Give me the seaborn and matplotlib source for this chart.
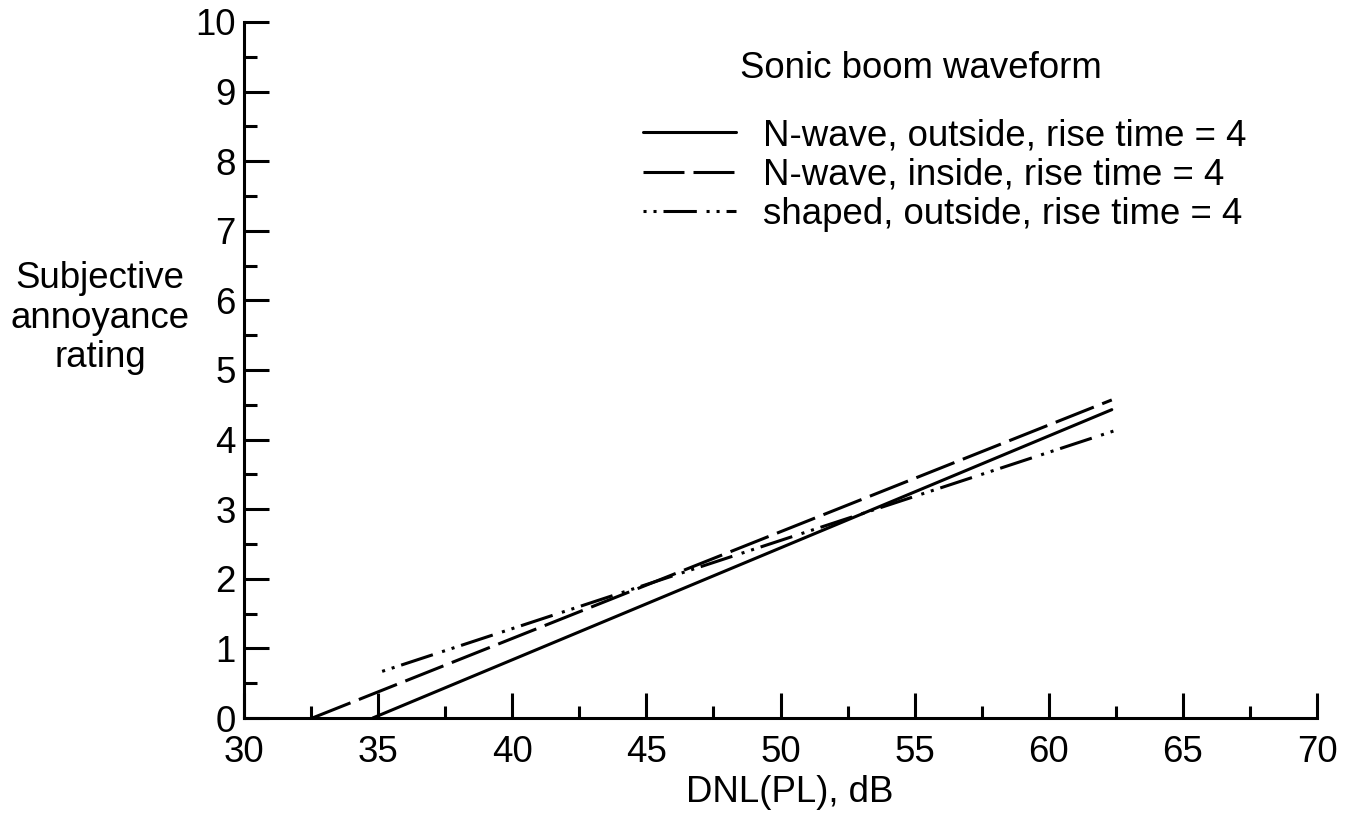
import numpy as np
import pandas as pd
import matplotlib
matplotlib.use("Agg")
import matplotlib.pyplot as plt
import seaborn as sns
from matplotlib.ticker import MultipleLocator

# ---- data ----
series_labels = ["N-wave, outside, rise time = 4",
                 "N-wave, inside, rise time = 4",
                 "shaped, outside, rise time = 4"]
dnl_start = [34.8, 32.55, 35.15]
dnl_end = [62.35, 62.35, 62.55]
rating_start = [0.0, 0.0, 0.67]
rating_end = [4.43, 4.57, 4.14]
x_ticks = [30, 35, 40, 45, 50, 55, 60, 65, 70]
y_ticks = [0, 1, 2, 3, 4, 5, 6, 7, 8, 9, 10]
legend_title = "Sonic boom waveform"
x_label = "DNL(PL), dB"
y_label = "Subjective\nannoyance\nrating"

df = pd.DataFrame({
    "DNL": [v for pair in zip(dnl_start, dnl_end) for v in pair],
    "rating": [v for pair in zip(rating_start, rating_end) for v in pair],
    "waveform": [lab for lab in series_labels for _ in range(2)],
})

sns.set_theme(style="ticks")
plt.rcParams["font.family"] = ["Liberation Sans", "DejaVu Sans"]
plt.rcParams["lines.scale_dashes"] = False
plt.rcParams["text.color"] = "black"
plt.rcParams["axes.labelcolor"] = "black"

FS = 26.4
fig = plt.figure(figsize=(13.5, 8.34), dpi=100)
W, H = 1350, 834
x0, x1, y0, y1 = 244, 1317, 718, 22
ax = fig.add_axes([x0 / W, 1 - y0 / H, (x1 - x0) / W, (y0 - y1) / H])

def ax_x(px):
    return (px - x0) / (x1 - x0)

def ax_y(py):
    return (y0 - py) / (y0 - y1)

dash_map = {
    series_labels[0]: "",
    series_labels[1]: (29.5, 6.5),
    series_labels[2]: (2.2, 5, 2.2, 5, 24, 7),
}
sns.lineplot(data=df, x="DNL", y="rating", style="waveform",
             style_order=series_labels, dashes=dash_map, color="black",
             linewidth=2.2, legend=False, estimator=None, sort=False, ax=ax)

ax.set_xlim(30, 70)
ax.set_ylim(0, 10)
ax.set_xticks(x_ticks)
ax.set_yticks(y_ticks)
ax.xaxis.set_minor_locator(MultipleLocator(2.5))
ax.yaxis.set_minor_locator(MultipleLocator(0.5))
ax.tick_params(which="major", direction="in", length=18, width=2.2,
               labelsize=FS, colors="black")
ax.tick_params(which="minor", direction="in", length=9, width=2.2,
               colors="black")
ax.tick_params(axis="x", which="major", pad=12)
ax.tick_params(axis="y", which="major", pad=6)
for s in ["top", "right"]:
    ax.spines[s].set_visible(False)
for s in ["left", "bottom"]:
    ax.spines[s].set_linewidth(2.2)
    ax.spines[s].set_color("black")
    ax.spines[s].set_capstyle("projecting")

ax.set_xlabel(x_label, fontsize=FS, va="center", color="black")
ax.xaxis.set_label_coords(ax_x(790), ax_y(792))
ax.set_ylabel("")
fig.text(100 / W, 1 - 318 / H, y_label, fontsize=FS, ha="center",
         va="center", multialignment="center", linespacing=1.15,
         color="black")

handles = ax.get_lines()[:3]
leg = ax.legend(handles=handles, labels=series_labels, loc="upper left",
                bbox_to_anchor=(ax_x(643), ax_y(118)),
                frameon=False, handlelength=2.54, handletextpad=0.72,
                labelspacing=0.12, fontsize=FS, borderaxespad=0, borderpad=0)
for t in leg.get_texts():
    t.set_color("black")
ax.text(ax_x(921), ax_y(78), legend_title, transform=ax.transAxes,
        fontsize=FS, ha="center", va="baseline", color="black")

fig.savefig("out.png", dpi=100, facecolor="white")
